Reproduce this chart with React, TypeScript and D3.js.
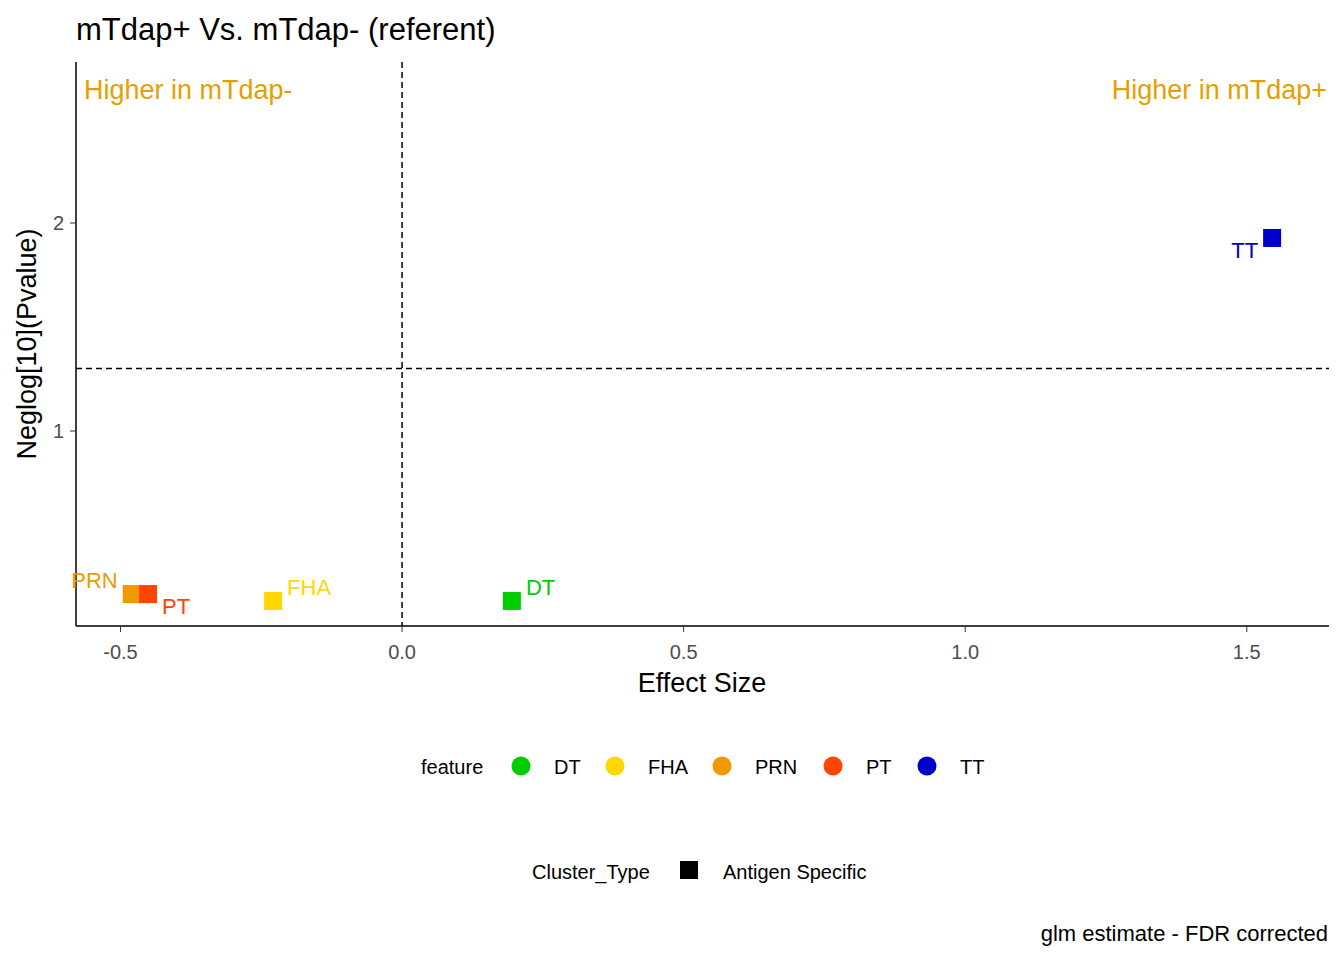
import React from "react";
import * as d3 from "d3";

const features = ["DT", "FHA", "PRN", "PT", "TT"];
const colors = ["#00CD00", "#FFD700", "#EE9A00", "#FF4500", "#0000CD"];
const effect = [0.195, -0.229, -0.48, -0.451, 1.545];
const neglogp = [0.183, 0.183, 0.216, 0.216, 1.928];
const labelPos = ["ra", "ra", "la", "rb", "lb"];
const xTicks = [-0.5, 0, 0.5, 1.0, 1.5];
const yTicks = [1, 2];

export default function App() {
  const W = 1344, H = 960;
  const x = d3.scaleLinear().domain([-0.579, 1.646]).range([76, 1329]);
  const y = d3.scaleLinear().domain([0.0625, 2.774]).range([626, 62]);
  const font = "Arial, 'Liberation Sans', sans-serif";
  const legX = [521, 615, 722, 833, 927];
  return (
    <svg width={W} height={H} style={{ position: "absolute", left: 0, top: 0 }} fontFamily={font}>
      <rect width={W} height={H} fill="white" />
      <text x={76} y={40} fontSize={31} fill="#000">mTdap+ Vs. mTdap- (referent)</text>
      <line x1={76} x2={76} y1={62} y2={626} stroke="#000" strokeWidth={1.5} />
      <line x1={76} x2={1329} y1={626} y2={626} stroke="#000" strokeWidth={1.5} />
      {xTicks.map(t => (
        <g key={t}>
          <line x1={x(t)} x2={x(t)} y1={626} y2={632} stroke="#333" />
          <text x={x(t)} y={659} fontSize={20} fill="#4d4d4d" textAnchor="middle">{t.toFixed(1)}</text>
        </g>
      ))}
      {yTicks.map(t => (
        <g key={t}>
          <line x1={70} x2={76} y1={y(t)} y2={y(t)} stroke="#333" />
          <text x={64} y={y(t) + 7} fontSize={20} fill="#4d4d4d" textAnchor="end">{t}</text>
        </g>
      ))}
      <line x1={x(0)} x2={x(0)} y1={62} y2={626} stroke="#000" strokeDasharray="6,4" strokeWidth={1.5} />
      <line x1={76} x2={1329} y1={y(1.301)} y2={y(1.301)} stroke="#000" strokeDasharray="6,4" strokeWidth={1.5} />
      <text x={84} y={99} fontSize={27} fill="#E69F00">Higher in mTdap-</text>
      <text x={1327} y={99} fontSize={27} fill="#E69F00" textAnchor="end">Higher in mTdap+</text>
      {features.map((f, i) => {
        const px = x(effect[i]), py = y(neglogp[i]);
        const p = labelPos[i];
        const lx = p[0] === "r" ? px + 14 : px - 14;
        const ly = p[1] === "a" ? py - 6 : py + 20;
        return (
          <g key={f}>
            <rect x={px - 9} y={py - 9} width={18} height={18} fill={colors[i]} />
            <text x={lx} y={ly} fontSize={22} fill={colors[i]} textAnchor={p[0] === "r" ? "start" : "end"}>{f}</text>
          </g>
        );
      })}
      <text x={702} y={692} fontSize={27} textAnchor="middle" fill="#000">Effect Size</text>
      <text transform={`translate(36,344) rotate(-90)`} fontSize={27} textAnchor="middle" fill="#000">Neglog[10](Pvalue)</text>
      <text x={421} y={774} fontSize={20} fill="#000">feature</text>
      {features.map((f, i) => (
        <g key={f}>
          <circle cx={legX[i]} cy={766} r={9.5} fill={colors[i]} />
          <text x={legX[i] + 33} y={774} fontSize={20} fill="#000">{f}</text>
        </g>
      ))}
      <text x={532} y={879} fontSize={20} fill="#000">Cluster_Type</text>
      <rect x={680} y={861} width={18} height={18} fill="#000" />
      <text x={723} y={879} fontSize={20} fill="#000">Antigen Specific</text>
      <text x={1328} y={941} fontSize={22} fill="#000" textAnchor="end">glm estimate - FDR corrected</text>
    </svg>
  );
}
